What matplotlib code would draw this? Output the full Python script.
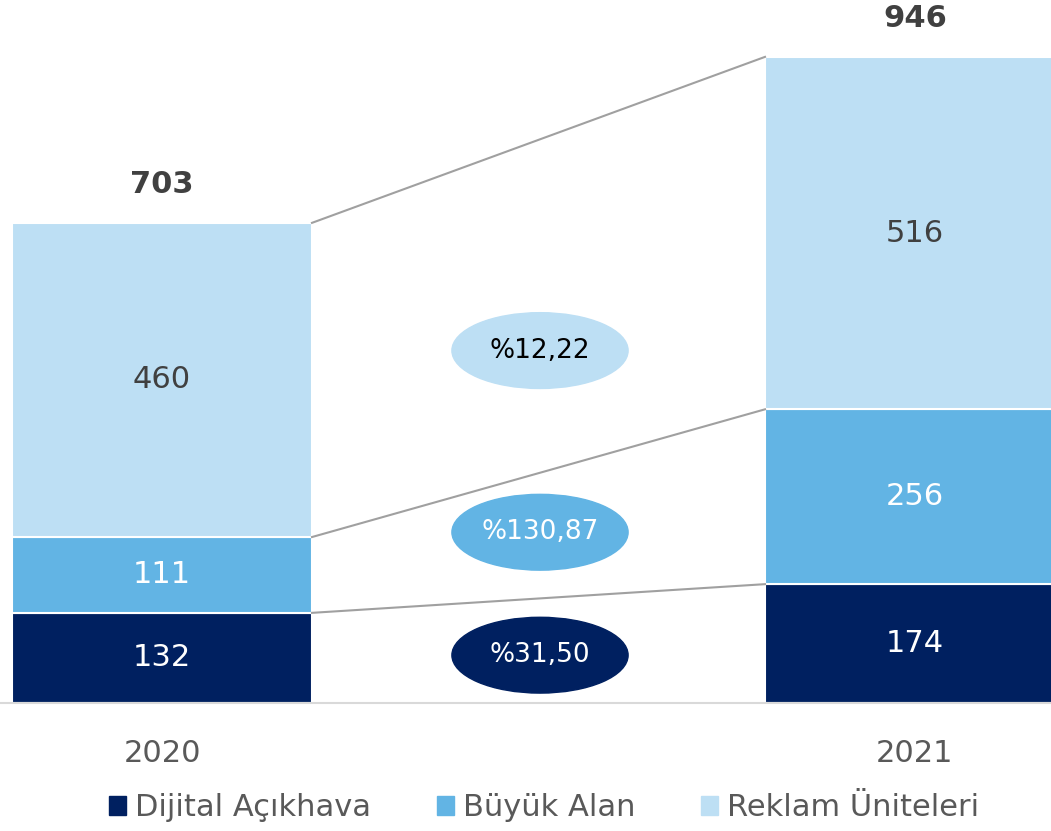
import matplotlib.pyplot as plt
from matplotlib.patches import Ellipse, Patch

# Dados
anos = ['2020', '2021']
dijital = [132, 174]
buyuk = [111, 256]
reklam = [460, 516]
toplam = [703, 946]
degisim = ['%31,50', '%130,87', '%12,22']
seriler = ['Dijital Açıkhava', 'Büyük Alan', 'Reklam Üniteleri']

cores = ['#002060', '#62B4E4', '#BDDFF4']
cores_texto = ['white', 'white', '#404040']

W, H = 1051, 831
fig = plt.figure(figsize=(W / 100, H / 100), dpi=100)
ax = fig.add_axes([0, 1 - 703 / H, 1, 703 / H])

x = [0, 1]
largura = 300 / 753
valores = [dijital, buyuk, reklam]
base = [0, 0]
topos = []
for vals, cor, ct in zip(valores, cores, cores_texto):
    ax.bar(x, vals, largura, bottom=base, color=cor, edgecolor='white', linewidth=1.5)
    for i in x:
        ax.text(i, base[i] + vals[i] / 2, str(vals[i]), ha='center', va='center',
                fontsize=22, color=ct)
    base = [b + v for b, v in zip(base, vals)]
    topos.append(list(base))

# linhas de ligacao
for t in topos:
    ax.plot([largura / 2, 1 - largura / 2], [t[0], t[1]], color='#A0A0A0', lw=1.5, zorder=1)

# totais
for i in x:
    ax.text(i, toplam[i] + 35, str(toplam[i]), ha='center', va='bottom',
            fontsize=22, fontweight='bold', color='#404040')

# elipses com variacao
cy = [70, 250, 516]
for yy, txt, cor, ct in zip(cy, degisim, cores, ['white', 'white', 'black']):
    ax.add_patch(Ellipse((0.502, yy), 0.234, 111, color=cor, zorder=3))
    ax.text(0.502, yy, txt, ha='center', va='center', fontsize=19, color=ct, zorder=4)

ax.set_xlim(-162 / 753, (W - 162) / 753)
ax.set_ylim(0, 703 / 0.683)
for s in ['top', 'left', 'right']:
    ax.spines[s].set_visible(False)
ax.spines['bottom'].set_color('#D9D9D9')
ax.spines['bottom'].set_linewidth(1.5)
ax.set_yticks([])
ax.set_xticks(x)
ax.set_xticklabels(anos, fontsize=22, color='#595959')
ax.tick_params(axis='x', length=0, pad=26)

handles = [Patch(color=c) for c in cores]
fig.legend(handles, seriler, loc='center', bbox_to_anchor=(0.518, 1 - 808 / H), ncol=3,
           frameon=False, fontsize=22, handlelength=0.55, handleheight=0.55,
           handletextpad=0.3, columnspacing=2.15, labelcolor='#595959')

fig.savefig('out.png', dpi=100)
